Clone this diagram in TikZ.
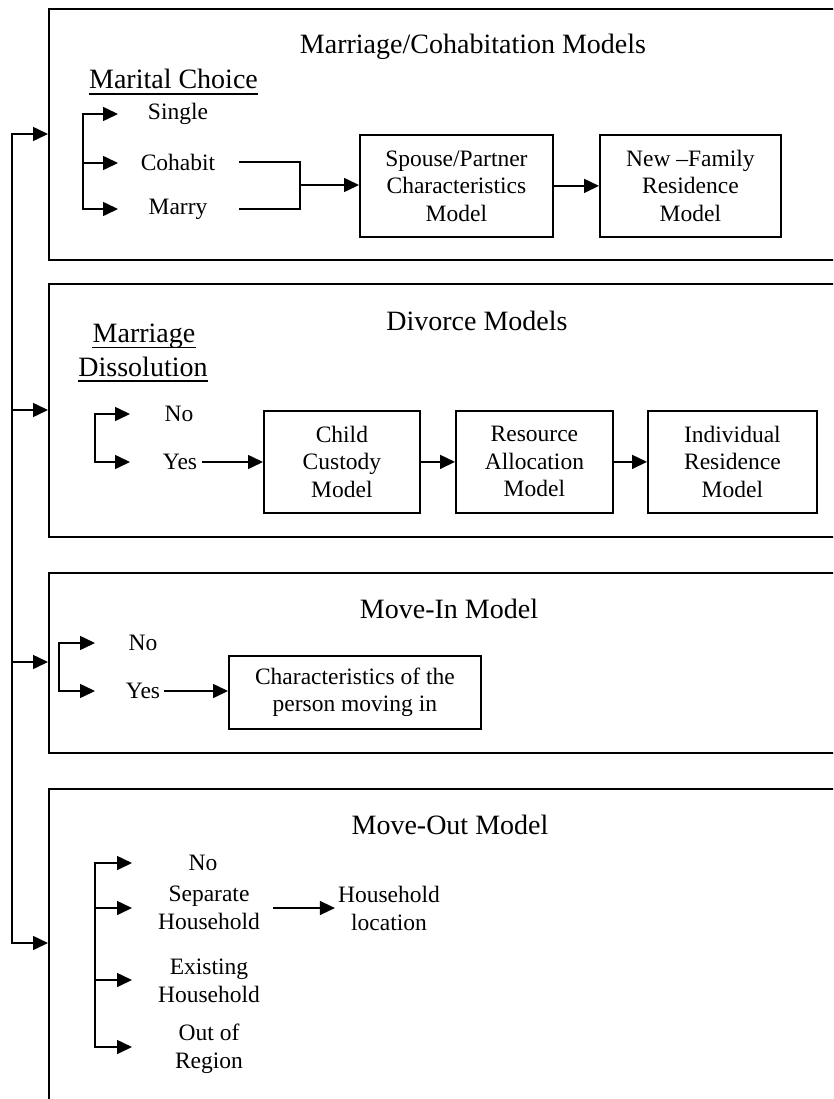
\documentclass[tikz,border=0pt]{standalone}
\usepackage{fontspec}
\setmainfont{Liberation Serif}
\usetikzlibrary{arrows.meta}
\tikzset{
  frame/.style={draw, line width=2pt, anchor=north west, inner sep=0pt},
  modelbox/.style={draw, line width=1.8pt, align=center, anchor=north west, inner sep=0pt,
    font=\fontsize{23.5}{27.5}\selectfont},
  lbl/.style={align=center, inner sep=0pt, font=\fontsize{23.5}{28}\selectfont},
  heading/.style={anchor=base, inner sep=0pt, font=\fontsize{28}{33}\selectfont},
  conn/.style={line width=1.6pt, line cap=rect},
  arr/.style={conn, -{Triangle[length=15pt,width=14pt]}},
  uline/.style={line width=1.4pt},
}
\begin{document}
\begin{tikzpicture}[x=1pt, y=-1pt]
\useasboundingbox (0,0) rectangle (833,1099);
\clip (0,0) rectangle (833,1099);

% ---- outer frames (they run on past the right and bottom edges)
\node[frame, minimum width=802pt, minimum height=251pt] (mc) at (48,8) {};
\node[frame, minimum width=802pt, minimum height=253pt] (dv) at (48,283) {};
\node[frame, minimum width=802pt, minimum height=180pt] (mi) at (48,572) {};
\node[frame, minimum width=802pt, minimum height=400pt] (mo) at (48,788) {};

% ---- main spine feeding each model group
\coordinate (s1) at (12,134);
\coordinate (s2) at (12,410);
\coordinate (s3) at (12,662);
\coordinate (s4) at (12,943);
\draw[conn] (s1) -- (s4);
\foreach \s/\f in {s1/mc, s2/dv, s3/mi, s4/mo}
  \draw[arr] (\s) -- (\s -| \f.west);

% ================= Marriage / cohabitation
\node[heading] (mct) at (473,54) {Marriage/Cohabitation Models};
\node[heading] (mcs) at (173.5,89) {Marital Choice};
\draw[uline] ([yshift=-5pt]mcs.base west) -- ([yshift=-5pt]mcs.base east);

\node[lbl] (single) at (178,114) {Single};
\node[lbl] (cohabit) at (178,162) {Cohabit};
\node[lbl] (marry) at (178,209) {Marry};

\coordinate (mb1) at (83,114);
\coordinate (mb2) at (83,163);
\coordinate (mb3) at (83,209);
\draw[conn] (mb1) -- (mb3);
\foreach \b in {mb1, mb2, mb3}
  \draw[arr] (\b) -- ++(35,0);

\node[modelbox, minimum width=193pt, minimum height=102pt] (spouse) at (359,134)
  {Spouse/Partner\\Characteristics\\Model};
\node[modelbox, minimum width=181pt, minimum height=102pt] (newfam) at (599,134)
  {New --Family\\Residence\\Model};

\coordinate (mj) at (300,185);
\coordinate (ms) at (240,185);
\draw[conn] (cohabit.east -| ms) -- (cohabit.east -| mj) -- (marry.east -| mj) -- (marry.east -| ms);
\draw[arr] (mj) -- (mj -| spouse.west);
\draw[arr] (spouse.east) -- (newfam.west);

% ================= Divorce
\node[heading] (dvt) at (477,330) {Divorce Models};
\node[heading] (dvs1) at (144,342.5) {Marriage};
\node[heading] (dvs2) at (143,376) {Dissolution};
\draw[uline] ([yshift=-5pt]dvs1.base west) -- ([yshift=-5pt]dvs1.base east);
\draw[uline] ([yshift=-5pt]dvs2.base west) -- ([yshift=-5pt]dvs2.base east);

\node[lbl] (dno) at (179,414) {No};
\node[lbl] (dyes) at (180,462) {Yes};
\coordinate (db1) at (95,414);
\coordinate (db2) at (95,462);
\draw[conn] (db1) -- (db2);
\foreach \b in {db1, db2}
  \draw[arr] (\b) -- ++(35,0);

\node[modelbox, minimum width=156pt, minimum height=102pt] (child) at (263,410)
  {Child\\Custody\\Model};
\node[modelbox, minimum width=157pt, minimum height=102pt] (resource) at (455,410)
  {Resource\\Allocation\\Model};
\node[modelbox, minimum width=169pt, minimum height=102pt] (indiv) at (647,410)
  {Individual\\Residence\\Model};

\draw[arr] ([xshift=5pt]dyes.east) -- (dyes.east -| child.west);
\draw[arr] (child.east) -- (resource.west);
\draw[arr] (resource.east) -- (indiv.west);

% ================= Move-in
\node[heading] (mit) at (449,618) {Move-In Model};
\node[lbl] (ino) at (143,643) {No};
\node[lbl] (iyes) at (143,691) {Yes};
\coordinate (ib1) at (59,643);
\coordinate (ib2) at (59,691);
\draw[conn] (ib1) -- (ib2);
\foreach \b in {ib1, ib2}
  \draw[arr] (\b) -- ++(36,0);

\node[modelbox, minimum width=252pt, minimum height=73pt] (mover) at (228,655)
  {Characteristics of the\\person moving in};
\draw[arr] ([xshift=5pt]iyes.east) -- (iyes.east -| mover.west);

% ================= Move-out
\node[heading] (mot) at (450,834) {Move-Out Model};
\node[lbl] (ono) at (203,863) {No};
\node[lbl] (osep) at (209,908) {Separate\\Household};
\node[lbl] (oexist) at (209,981) {Existing\\Household};
\node[lbl] (oregion) at (209,1049) {Out of\\Region};
\node[lbl] (oloc) at (389,908) {Household\\location};

\coordinate (ob1) at (95,863);
\coordinate (ob2) at (95,908);
\coordinate (ob3) at (95,980);
\coordinate (ob4) at (95,1047);
\draw[conn] (ob1) -- (ob4);
\foreach \b in {ob1, ob2, ob3, ob4}
  \draw[arr] (\b) -- ++(37,0);

\draw[arr] ([xshift=14pt]osep.east) -- ([xshift=-3pt]oloc.west);
\end{tikzpicture}
\end{document}
